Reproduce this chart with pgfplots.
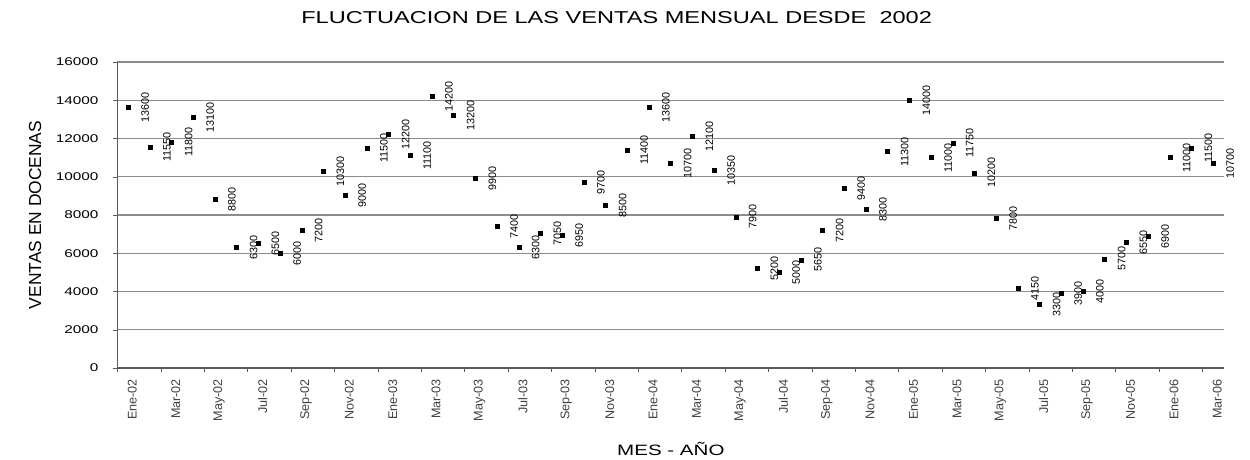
\documentclass[border=0pt]{standalone}
\usepackage{fontspec}
\setmainfont{Liberation Sans}
\newfontfamily\widesans[FakeStretch=1.37]{Liberation Sans}
\usepackage{pgfplots}
\pgfplotsset{compat=1.18}

\begin{document}
\begin{tikzpicture}
\useasboundingbox (-58.75pt,-46pt) rectangle (566.25pt,184pt);
\begin{axis}[
  at={(0pt,0pt)}, anchor=south west,
  scale only axis, width=553.35pt, height=153pt,
  xmin=-0.5, xmax=50.5, ymin=0, ymax=16000,
  clip=false,
  axis lines*=left,
  axis line style={black!65, line width=0.6pt},
  /pgf/number format/assume math mode=true,
  scaled y ticks=false,
  ytick={0,2000,...,16000},
  ymajorgrids,
  major grid style={black!45, line width=0.6pt},
  ytick style={black!65},
  tick align=outside,
  major tick length=2pt,
  yticklabel style={font=\widesans\fontsize{5.6}{6}\selectfont,
    /pgf/number format/.cd, fixed, precision=0, 1000 sep={}},
  yticklabel shift=4pt,
  xtick={0,2,...,50},
  xticklabels={Ene-02,Mar-02,May-02,Jul-02,Sep-02,Nov-02,
               Ene-03,Mar-03,May-03,Jul-03,Sep-03,Nov-03,
               Ene-04,Mar-04,May-04,Jul-04,Sep-04,Nov-04,
               Ene-05,Mar-05,May-05,Jul-05,Sep-05,Nov-05,
               Ene-06,Mar-06},
  xtick style={draw=none},
  xticklabel style={rotate=90, anchor=east, black!75,
    font=\fontsize{6.3}{7}\selectfont, yshift=-2pt},
  extra x ticks={-0.5,1.5,...,50.5},
  extra x tick style={xticklabel={}, xtick style={draw=black!65}},
  title={FLUCTUACION DE LAS VENTAS MENSUAL DESDE\ \ 2002},
  title style={at={(0.451,1)}, anchor=base, yshift=13pt,
    font=\widesans\fontsize{8.6}{10}\selectfont},
  xlabel={MES - AÑO},
  xlabel style={at={(0.5,0)}, anchor=base, yshift=-44pt,
    font=\widesans\fontsize{7.5}{9}\selectfont},
  ylabel={VENTAS EN DOCENAS},
  ylabel style={at={(-0.0745,0.5)}, anchor=center,
    font=\fontsize{8.7}{10}\selectfont},
]
% monthly sales, one point per month, value written beside each mark
\addplot[only marks, mark=square*, mark size=1pt, black,
  nodes near coords,
  every node near coord/.append style={rotate=90, anchor=north,
    font=\fontsize{5.4}{6}\selectfont, inner sep=0.5pt, outer sep=6pt,
    /pgf/number format/.cd, fixed, precision=0, 1000 sep={}}]
coordinates {
(0,13600) (1,11550) (2,11800) (3,13100) (4,8800) (5,6300) (6,6500)
(7,6000) (8,7200) (9,10300) (10,9000) (11,11500) (12,12200) (13,11100)
(14,14200) (15,13200) (16,9900) (17,7400) (18,6300) (19,7050) (20,6950)
(21,9700) (22,8500) (23,11400) (24,13600) (25,10700) (26,12100) (27,10350)
(28,7900) (29,5200) (30,5000) (31,5650) (32,7200) (33,9400) (34,8300)
(35,11300) (36,14000) (37,11000) (38,11750) (39,10200) (40,7800) (41,4150)
(42,3300) (43,3900) (44,4000) (45,5700) (46,6550) (47,6900) (48,11000)
(49,11500) (50,10700)
};
\end{axis}
\end{tikzpicture}
\end{document}
